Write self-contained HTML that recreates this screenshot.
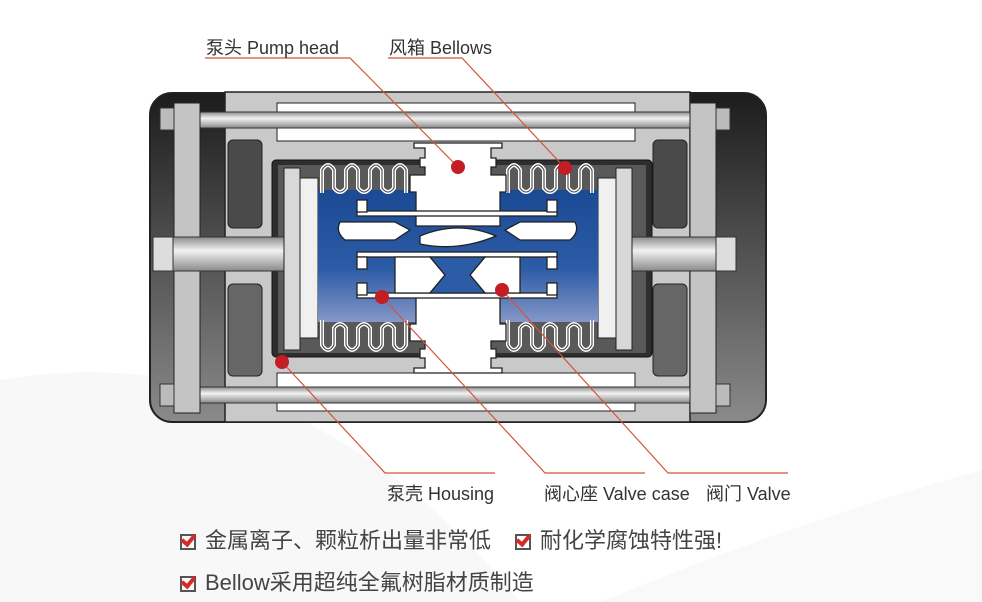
<!DOCTYPE html>
<html><head><meta charset="utf-8"><style>
body{margin:0;width:982px;height:602px;overflow:hidden;background:#fff;font-family:"Liberation Sans","Noto Sans CJK SC",sans-serif;}
.t{position:absolute;font-size:18px;color:#333;white-space:nowrap}
.f{position:absolute;font-size:22px;color:#444;white-space:nowrap}
.cb{display:inline-block;width:16px;height:16px;border:2px solid #555;position:relative;vertical-align:-2px;margin-right:9px;box-sizing:border-box}
.cb:after{content:"";position:absolute;left:2px;top:-4px;width:5px;height:10px;border:solid #d42a2a;border-width:0 4px 4px 0;transform:rotate(40deg)}
</style></head><body>
<svg width="982" height="602" style="position:absolute;left:0;top:0">
<defs>
<linearGradient id="sh" x1="0" y1="0" x2="0" y2="1"><stop offset="0" stop-color="#1c1c1c"/><stop offset="1" stop-color="#8a8a8a"/></linearGradient>
<linearGradient id="bl" x1="0" y1="0" x2="0" y2="1"><stop offset="0" stop-color="#1b4a94"/><stop offset=".6" stop-color="#2d5ca6"/><stop offset="1" stop-color="#8597c8"/></linearGradient>
<linearGradient id="rod" x1="0" y1="0" x2="0" y2="1"><stop offset="0" stop-color="#8c8c8c"/><stop offset=".4" stop-color="#f2f2f2"/><stop offset="1" stop-color="#8a8a8a"/></linearGradient>
</defs>
<path d="M0 380 Q300 330 520 602 L0 602Z" fill="#f8f8f8"/>
<path d="M600 602 Q800 520 982 470 L982 602Z" fill="#f9f9f9"/>
<rect x="150" y="93" width="616" height="329" rx="22" fill="url(#sh)" stroke="#222" stroke-width="2"/>
<path d="M225 92 H690 V422 H225Z" fill="#c9c9c9" stroke="#222" stroke-width="1.5"/>
<rect x="228" y="140" width="34" height="88" rx="5" fill="#4a4a4a" stroke="#222"/>
<rect x="228" y="284" width="34" height="92" rx="5" fill="#666" stroke="#222"/>
<rect x="653" y="140" width="34" height="88" rx="5" fill="#4a4a4a" stroke="#222"/>
<rect x="653" y="284" width="34" height="92" rx="5" fill="#666" stroke="#222"/>
<rect x="277" y="103" width="358" height="38" fill="#fff" stroke="#222"/>
<rect x="277" y="373" width="358" height="38" fill="#fff" stroke="#222"/>
<rect x="168" y="112" width="560" height="16" fill="url(#rod)" stroke="#333"/>
<rect x="168" y="387" width="560" height="16" fill="url(#rod)" stroke="#333"/>
<rect x="174" y="103" width="26" height="310" fill="#c4c4c4" stroke="#222"/>
<rect x="690" y="103" width="26" height="310" fill="#c4c4c4" stroke="#222"/>
<rect x="160" y="108" width="14" height="22" fill="#bbb" stroke="#333"/>
<rect x="160" y="384" width="14" height="22" fill="#bbb" stroke="#333"/>
<rect x="716" y="108" width="14" height="22" fill="#bbb" stroke="#333"/>
<rect x="716" y="384" width="14" height="22" fill="#bbb" stroke="#333"/>
<rect x="272" y="160" width="380" height="197" rx="4" fill="#2e2e2e" stroke="#111"/>
<rect x="278" y="165" width="368" height="188" fill="#595959"/>
<rect x="155" y="237" width="148" height="34" fill="url(#rod)" stroke="#333"/>
<rect x="598" y="237" width="135" height="34" fill="url(#rod)" stroke="#333"/>
<rect x="153" y="237" width="20" height="34" fill="#ddd" stroke="#333"/>
<rect x="716" y="237" width="20" height="34" fill="#ddd" stroke="#333"/>
<rect x="284" y="168" width="16" height="182" fill="#d8d8d8" stroke="#222"/>
<rect x="300" y="178" width="18" height="160" fill="#f0f0f0" stroke="#222"/>
<rect x="598" y="178" width="18" height="160" fill="#f0f0f0" stroke="#222"/>
<rect x="616" y="168" width="16" height="182" fill="#d8d8d8" stroke="#222"/>
<rect x="318" y="190" width="280" height="132" fill="url(#bl)"/>
<g fill="none" stroke="#fff" stroke-width="4">
<path d="M322 193 V170 Q328 160 334 170 V188 Q340 196 346 188 V170 Q352 160 358 170 V188 Q364 196 370 188 V170 Q376 160 382 170 V188 Q388 196 394 188 V170 Q400 160 406 170 V193"/>
<path d="M508 193 V170 Q514 160 520 170 V188 Q526 196 532 188 V170 Q538 160 544 170 V188 Q550 196 556 188 V170 Q562 160 568 170 V188 Q574 196 580 188 V170 Q586 160 592 170 V193"/>
<path d="M322 320 V345 Q328 355 334 345 V328 Q340 320 346 328 V345 Q352 355 358 345 V328 Q364 320 370 328 V345 Q376 355 382 345 V328 Q388 320 394 328 V345 Q400 355 406 345 V320"/>
<path d="M508 320 V345 Q514 355 520 345 V328 Q526 320 532 328 V345 Q538 355 544 345 V328 Q550 320 556 328 V345 Q562 355 568 345 V328 Q574 320 580 328 V345 Q586 355 592 345 V320"/>
</g>
<g fill="none" stroke="#333" stroke-width="1">
<path d="M322 193 V170 Q328 160 334 170 V188 Q340 196 346 188 V170 Q352 160 358 170 V188 Q364 196 370 188 V170 Q376 160 382 170 V188 Q388 196 394 188 V170 Q400 160 406 170 V193"/>
<path d="M508 193 V170 Q514 160 520 170 V188 Q526 196 532 188 V170 Q538 160 544 170 V188 Q550 196 556 188 V170 Q562 160 568 170 V188 Q574 196 580 188 V170 Q586 160 592 170 V193"/>
<path d="M322 320 V345 Q328 355 334 345 V328 Q340 320 346 328 V345 Q352 355 358 345 V328 Q364 320 370 328 V345 Q376 355 382 345 V328 Q388 320 394 328 V345 Q400 355 406 345 V320"/>
<path d="M508 320 V345 Q514 355 520 345 V328 Q526 320 532 328 V345 Q538 355 544 345 V328 Q550 320 556 328 V345 Q562 355 568 345 V328 Q574 320 580 328 V345 Q586 355 592 345 V320"/>
</g>
<g fill="#fff" stroke="#222" stroke-width="1.3">
<path d="M414 148 H425 V158 H420 V167 H425 V175 H410 V192 H416 V226 H500 V192 H506 V175 H491 V167 H496 V158 H491 V148 H502 V143 H414Z"/>
<path d="M414 368 H425 V358 H420 V349 H425 V341 H410 V324 H416 V290 H500 V324 H506 V341 H491 V349 H496 V358 H491 V368 H502 V373 H414Z"/>
<rect x="357" y="211" width="200" height="5"/>
<rect x="357" y="252" width="200" height="5"/>
<rect x="357" y="293" width="200" height="5"/>
<path d="M420 236 Q458 220 496 236 Q458 252 420 244Z"/>
<path d="M340 222 L395 222 L410 230 L395 240 L345 240 Q335 232 340 222Z"/>
<path d="M520 222 L575 222 Q580 232 570 240 L520 240 L505 230Z"/>
<path d="M395 257 H430 L445 275 L430 293 H395Z"/>
<path d="M520 257 H485 L470 275 L485 293 H520Z"/>
<path d="M430 257 H485 L470 275 L485 293 H430 L445 275Z" fill="#2d5ca6"/>
<rect x="357" y="257" width="10" height="12"/><rect x="357" y="283" width="10" height="12"/>
<rect x="547" y="257" width="10" height="12"/><rect x="547" y="283" width="10" height="12"/>
<rect x="357" y="200" width="10" height="12"/><rect x="547" y="200" width="10" height="12"/>
</g>
<g fill="none" stroke="#d0553a" stroke-width="1.2">
<polyline points="205,58 350,58 458,167"/>
<polyline points="388,58 462,58 565,168"/>
<polyline points="282,362 385,473 495,473"/>
<polyline points="382,297 545,473 645,473"/>
<polyline points="502,290 668,473 788,473"/>
</g>
<g fill="#c41d24">
<circle cx="458" cy="167" r="7"/><circle cx="565" cy="168" r="7"/>
<circle cx="282" cy="362" r="7"/><circle cx="382" cy="297" r="7"/><circle cx="502" cy="290" r="7"/>
</g>
</svg>
<div class="t" style="left:206px;top:34px">泵头 Pump head</div>
<div class="t" style="left:389px;top:34px">风箱 Bellows</div>
<div class="t" style="left:387px;top:480px">泵壳 Housing</div>
<div class="t" style="left:544px;top:480px">阀心座 Valve case</div>
<div class="t" style="left:706px;top:480px">阀门 Valve</div>
<div class="f" style="left:180px;top:523px"><span class="cb"></span>金属离子、颗粒析出量非常低</div>
<div class="f" style="left:515px;top:523px"><span class="cb"></span>耐化学腐蚀特性强!</div>
<div class="f" style="left:180px;top:565px"><span class="cb"></span>Bellow采用超纯全氟树脂材质制造</div>
</body></html>
